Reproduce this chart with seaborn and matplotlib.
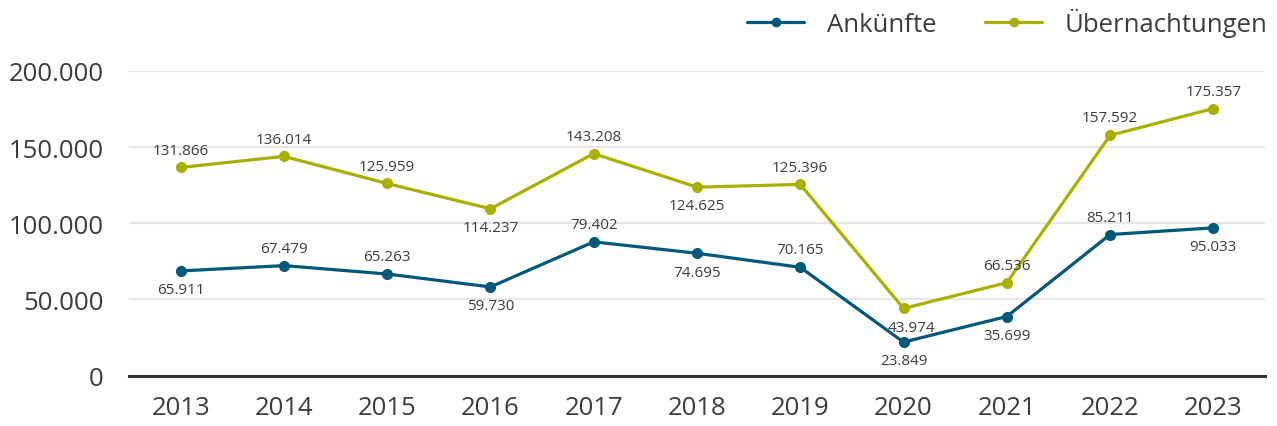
import numpy as np
import matplotlib.pyplot as plt
import matplotlib.ticker as mticker
import pandas as pd
import seaborn as sns
from matplotlib.lines import Line2D

## Daten: Jahre, Werte (Lage der Punkte) und die Beschriftungen
jahre = [2013, 2014, 2015, 2016, 2017, 2018, 2019, 2020, 2021, 2022, 2023]

ankuenfte = [68700, 72200, 66700, 58200, 87800, 80300, 71100, 22000, 38800, 92600, 97000]
ankuenfte_labels = ['65.911', '67.479', '65.263', '59.730', '79.402', '74.695',
                    '70.165', '23.849', '35.699', '85.211', '95.033']
ankuenfte_oben = [False, True, True, False, True, False, True, False, False, True, False]

uebernacht = [136600, 143900, 126100, 109500, 145700, 123700, 125500, 44100, 61000, 157700, 175300]
uebernacht_labels = ['131.866', '136.014', '125.959', '114.237', '143.208', '124.625',
                     '125.396', '43.974', '66.536', '157.592', '175.357']
uebernacht_oben = [True, True, True, False, True, False, True, False, True, True, True]

serien = ['Ankünfte', 'Übernachtungen']
farben = {'Ankünfte': '#00587a', 'Übernachtungen': '#a9b100'}

df = pd.DataFrame({
    'Jahr': jahre * 2,
    'Wert': ankuenfte + uebernacht,
    'Serie': ['Ankünfte'] * len(jahre) + ['Übernachtungen'] * len(jahre),
})

sns.set_theme(style='white')
plt.rcParams['font.family'] = ['Open Sans', 'DejaVu Sans']
textfarbe = '#3c3c3c'

fig = plt.figure(figsize=(12.77, 4.27), dpi=100)
ax = fig.add_axes([0.101, 0.118, 0.8896, 0.7136])

sns.lineplot(data=df, x='Jahr', y='Wert', hue='Serie', palette=farben,
             marker='o', markersize=8, markeredgewidth=0, linewidth=2.3,
             legend=False, ax=ax)

## Datenbeschriftungen
for werte, labels, oben in [(ankuenfte, ankuenfte_labels, ankuenfte_oben),
                            (uebernacht, uebernacht_labels, uebernacht_oben)]:
    for x, y, t, o in zip(jahre, werte, labels, oben):
        dx = 6 if t == '43.974' else 0
        ax.annotate(t, (x, y), xytext=(dx, 12.5 if o else -13.5), textcoords='offset points',
                    ha='center', va='center', fontsize=11, color=textfarbe)

ax.set_xlim(2012.5, 2023.5)
ax.set_ylim(0, 200000)
ax.set_xticks(jahre)
ax.set_yticks([0, 50000, 100000, 150000, 200000])
ax.yaxis.set_major_formatter(mticker.FuncFormatter(lambda v, p: f'{int(v):,}'.replace(',', '.')))
ax.tick_params(axis='y', length=0, pad=18, labelsize=18.5, labelcolor=textfarbe)
ax.tick_params(axis='x', length=0, pad=14, labelsize=18.5, labelcolor=textfarbe)
ax.set_xlabel('')
ax.set_ylabel('')

ax.grid(axis='y', color='#e6e6e6', linewidth=1.5)
ax.set_axisbelow(True)
for s in ['left', 'right', 'top']:
    ax.spines[s].set_visible(False)
ax.spines['bottom'].set_color('#333333')
ax.spines['bottom'].set_linewidth(2.2)

## Legende oben rechts
handles = [Line2D([], [], color=farben[s], marker='o', markersize=7, markeredgewidth=0,
                  linewidth=2.3) for s in serien]
fig.legend(handles, serien, loc='center right', bbox_to_anchor=(1.011, 0.945), ncol=2,
           frameon=False, fontsize=18.5, labelcolor=textfarbe,
           handlelength=2.2, handletextpad=0.9, columnspacing=1.9)

fig.savefig('out.png', dpi=100)
